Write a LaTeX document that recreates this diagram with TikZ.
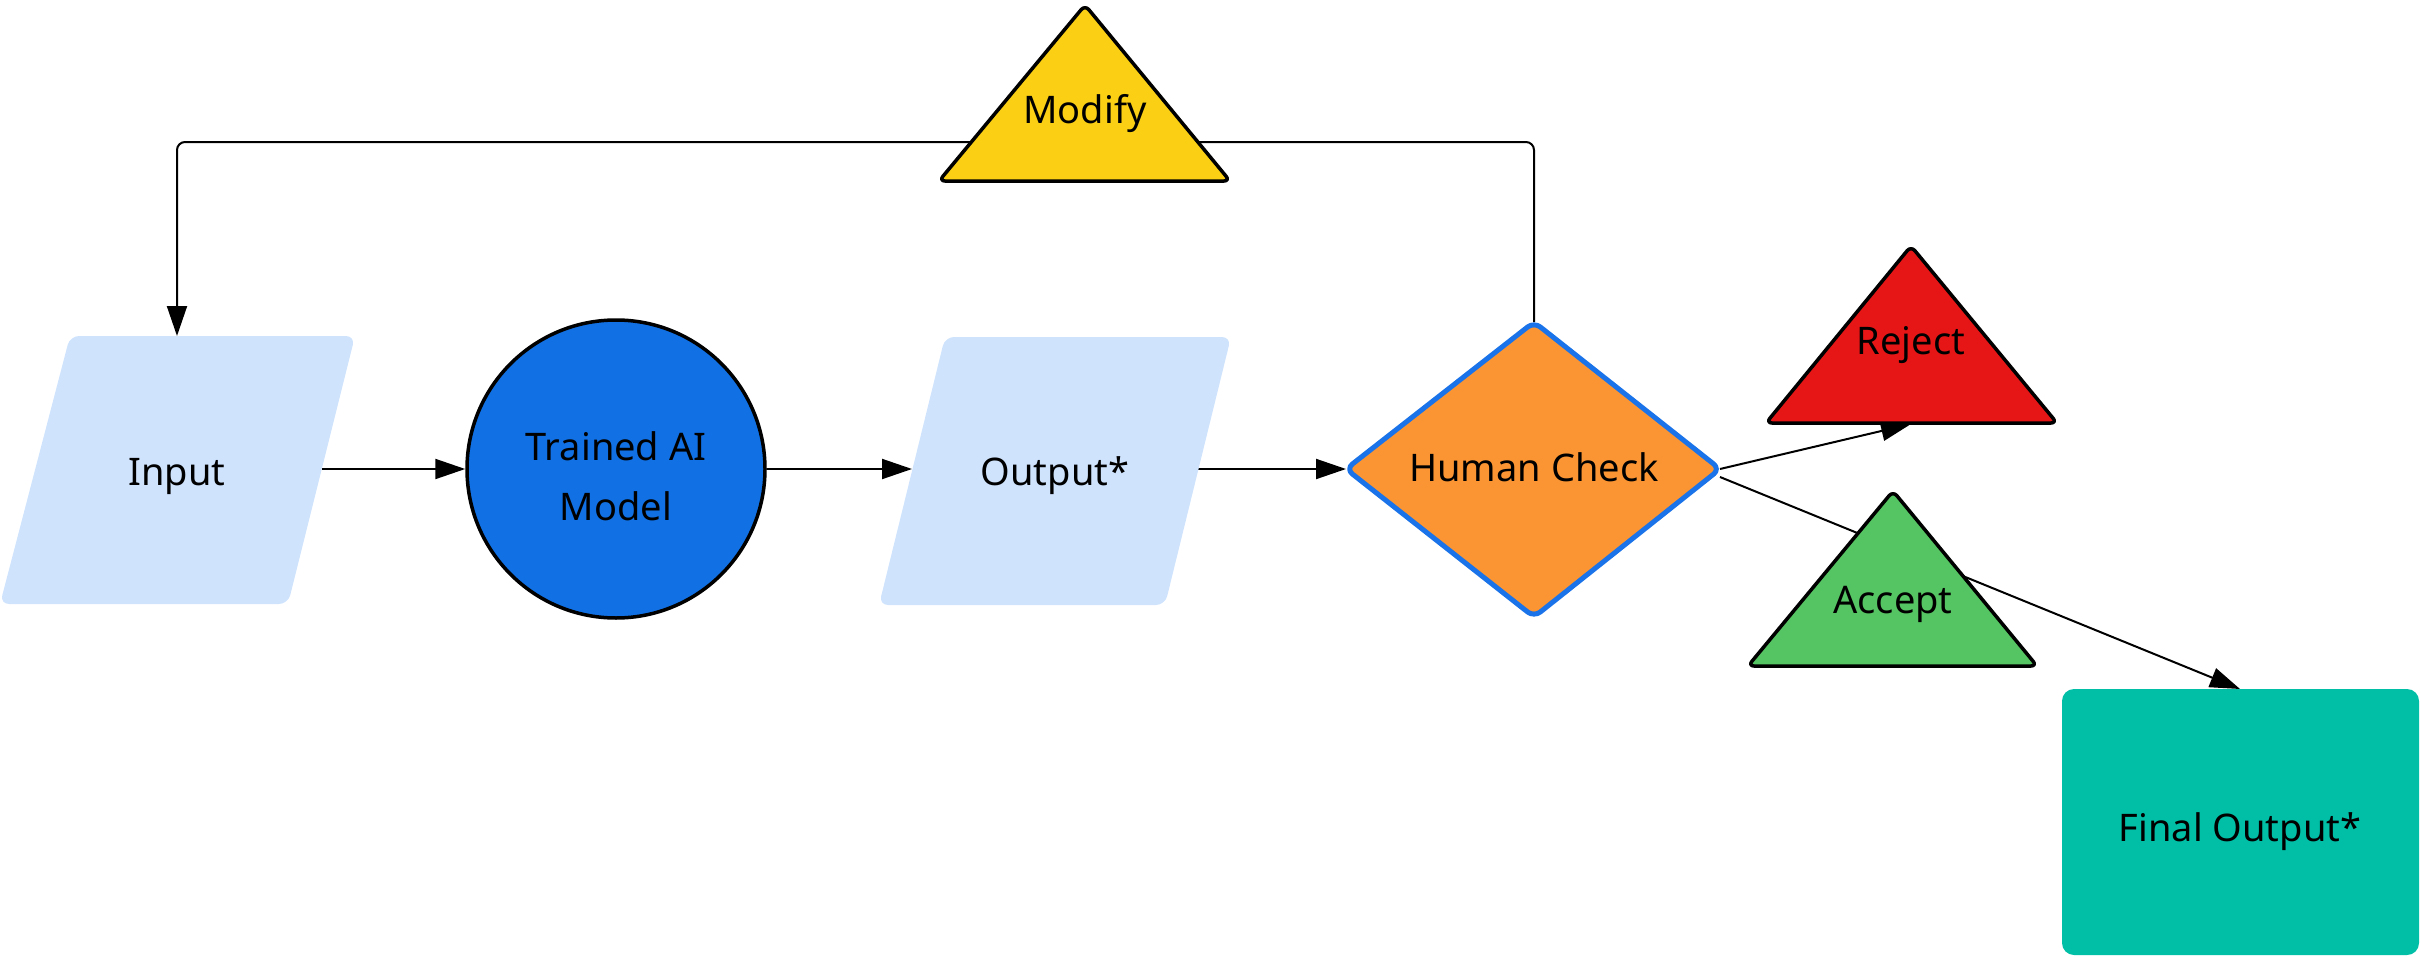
\documentclass[tikz,border=0pt]{standalone}
\usepackage{fontspec}
\setmainfont{Noto Sans}
\usetikzlibrary{arrows.meta,backgrounds}
\definecolor{inbg}{HTML}{CFE3FD}
\definecolor{aiblue}{HTML}{1170E3}
\definecolor{hcorange}{HTML}{FB9533}
\definecolor{hcblue}{HTML}{1A73E8}
\definecolor{modyellow}{HTML}{FACF14}
\definecolor{rejred}{HTML}{E61616}
\definecolor{accgreen}{HTML}{55C462}
\definecolor{finteal}{HTML}{00BFA6}
\begin{document}
\begin{tikzpicture}[x=1pt,y=-1pt,
  font=\fontsize{38}{60}\selectfont,
  conn/.style={draw=black, line width=2pt, -{Triangle[length=30pt,width=20pt]}},
  tri/.style={draw=black, line width=3.5pt, rounded corners=6pt, line join=round},
  para/.style={rounded corners=9pt},
  lbl/.style={inner sep=0pt, align=center}]

\useasboundingbox (0,0) rectangle (2421,958);

% named anchor points
\coordinate (input-n) at (177,336);
\coordinate (input-e) at (321.5,469);
\coordinate (output-w) at (912,469);
\coordinate (output-e) at (1198,469);
\coordinate (hc-n) at (1534,322);
\coordinate (hc-e) at (1720,469);
\coordinate (hc-w) at (1346,469);
\coordinate (reject-s) at (1911,424);
\coordinate (final-n) at (2240,689);
\coordinate (loop-r) at (1534,142);

% input / output parallelograms
\fill[inbg, para] (0,604) -- (70,336) -- (355,336) -- (288,604) -- cycle;
\node[lbl] (input) at (177,476) {Input};
\fill[inbg, para] (879,605) -- (945,337) -- (1231,337) -- (1165,605) -- cycle;
\node[lbl] (output) at (1055,476) {Output*};

% model circle
\node[circle, draw=black, line width=3.5pt, fill=aiblue, minimum size=298pt, inner sep=0pt] (model) at (616,469) {};
\node[lbl] (modeltext) at (616,476) {Trained AI\\Model};

% human check diamond
\filldraw[fill=hcorange, draw=hcblue, line width=5pt, rounded corners=8pt, line join=round]
  (1346,469) -- (1534,322) -- (1720,469) -- (1534,617) -- cycle;
\node[lbl] (hc) at (1534,467) {Human Check};

% triangles
\filldraw[tri, fill=modyellow] (1085,5) -- (1230,181) -- (939,181) -- cycle;
\node[lbl] (modify) at (1085,114) {Modify};
\filldraw[tri, fill=rejred] (1911,246) -- (2057,423) -- (1766,423) -- cycle;
\node[lbl] (reject) at (1911,345) {Reject};
\filldraw[tri, fill=accgreen] (1893,491) -- (2037,666) -- (1748,666) -- cycle;
\node[lbl] (accept) at (1893,604) {Accept};

% final output
\fill[finteal, rounded corners=12pt] (2062,689) rectangle (2419,955);
\node[lbl] (final) at (2240,832) {Final Output*};

% connectors (under the shapes)
\begin{scope}[on background layer]
\draw[conn] (input-e) -- (model.west);
\draw[conn] (model.east) -- (output-w);
\draw[conn] (output-e) -- (hc-w);
\draw[conn, rounded corners=8pt] (hc-n) -- (loop-r) -| (input-n);
\draw[conn] (hc-e) -- (reject-s);
\draw[conn] ([yshift=-8pt]hc-e) -- (final-n);
\end{scope}
\end{tikzpicture}
\end{document}
